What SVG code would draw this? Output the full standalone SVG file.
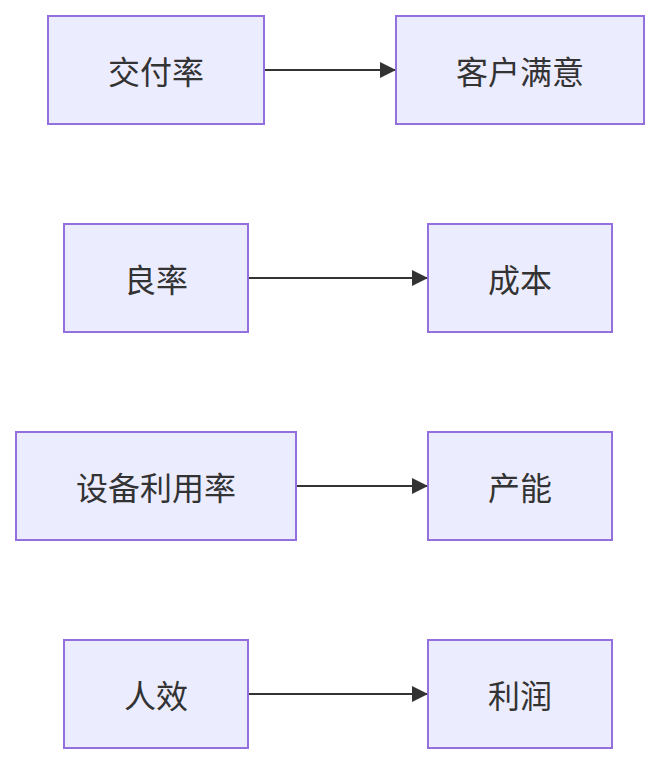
<svg xmlns="http://www.w3.org/2000/svg" width="660" height="764" viewBox="0 0 660 764">
<style>
.node rect{fill:#ECECFF;stroke:#9370DB;stroke-width:2}
.node text{fill:#333;font-family:"Noto Sans CJK SC","Noto Sans",sans-serif;font-size:32px;text-anchor:middle;dominant-baseline:central}
.edge{stroke:#333;stroke-width:2;fill:none}
</style>
<defs>
<marker id="arr" markerWidth="16" markerHeight="16" refX="16" refY="8" orient="auto" markerUnits="userSpaceOnUse">
<path d="M0,0 L16,8 L0,16 Z" fill="#333"/>
</marker>
</defs>
<rect width="660" height="764" fill="#fff"/>
<g id="connectors">
<path class="edge" d="M264,70 L396,70" marker-end="url(#arr)"/>
<path class="edge" d="M248,278 L428,278" marker-end="url(#arr)"/>
<path class="edge" d="M296,486 L428,486" marker-end="url(#arr)"/>
<path class="edge" d="M248,694 L428,694" marker-end="url(#arr)"/>
</g>
<g id="n1" class="node"><rect x="48" y="16" width="216" height="108"/><text x="156" y="70">交付率</text></g>
<g id="n2" class="node"><rect x="396" y="16" width="248" height="108"/><text x="520" y="70">客户满意</text></g>
<g id="n3" class="node"><rect x="64" y="224" width="184" height="108"/><text x="156" y="278">良率</text></g>
<g id="n4" class="node"><rect x="428" y="224" width="184" height="108"/><text x="520" y="278">成本</text></g>
<g id="n5" class="node"><rect x="16" y="432" width="280" height="108"/><text x="156" y="486">设备利用率</text></g>
<g id="n6" class="node"><rect x="428" y="432" width="184" height="108"/><text x="520" y="486">产能</text></g>
<g id="n7" class="node"><rect x="64" y="640" width="184" height="108"/><text x="156" y="694">人效</text></g>
<g id="n8" class="node"><rect x="428" y="640" width="184" height="108"/><text x="520" y="694">利润</text></g>
</svg>
